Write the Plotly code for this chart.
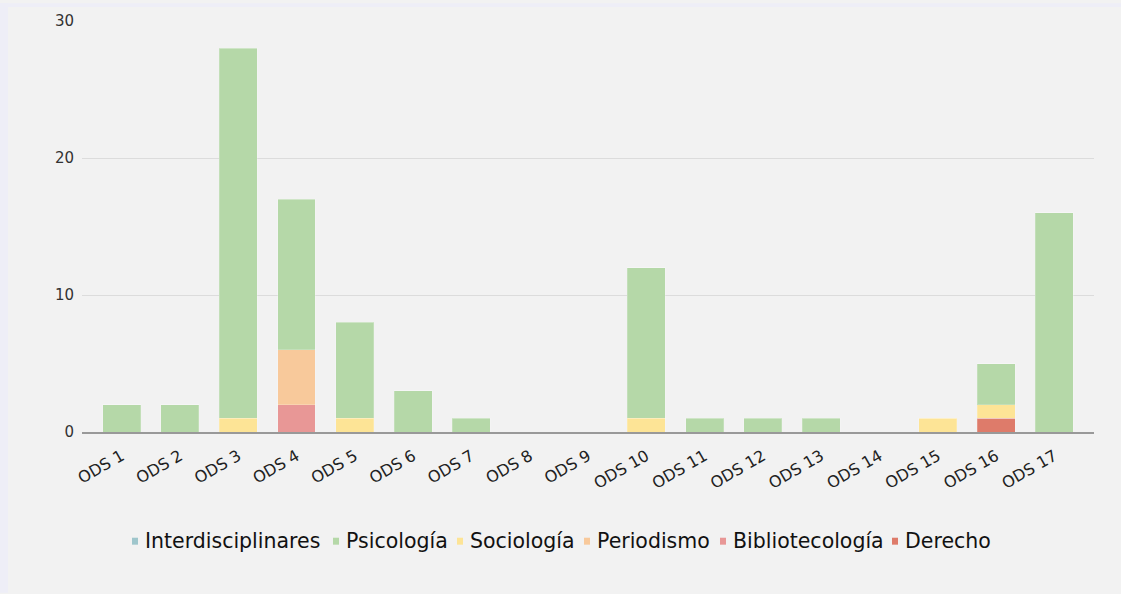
import plotly.graph_objects as go

categories = [f"ODS {i}" for i in range(1, 18)]

interdisciplinares = [0]*17
psicologia     = [2, 2, 27, 11, 7, 3, 1, 0, 0, 11, 1, 1, 1, 0, 0, 3, 16]
sociologia     = [0, 0, 1, 0, 1, 0, 0, 0, 0, 1, 0, 0, 0, 0, 1, 1, 0]
periodismo     = [0, 0, 0, 4, 0, 0, 0, 0, 0, 0, 0, 0, 0, 0, 0, 0, 0]
bibliotecologia= [0, 0, 0, 2, 0, 0, 0, 0, 0, 0, 0, 0, 0, 0, 0, 0, 0]
derecho        = [0, 0, 0, 0, 0, 0, 0, 0, 0, 0, 0, 0, 0, 0, 0, 1, 0]

series_names = ["Interdisciplinares", "Psicología", "Sociología", "Periodismo", "Bibliotecología", "Derecho"]
series_values = [interdisciplinares, psicologia, sociologia, periodismo, bibliotecologia, derecho]
colors = ["#9fc6cc", "#b5d8a8", "#fde496", "#f8c99b", "#e89796", "#de7b6a"]

y_ticks = [0, 10, 20, 30]

W, H = 1121, 594
ML, MR, MT, MB = 82, 27, 18, 162
PW, PH = W - ML - MR, H - MT - MB

fig = go.Figure()
# stack bottom-up: reverse of legend order
for name, vals, col in reversed(list(zip(series_names, series_values, colors))):
    fig.add_trace(go.Bar(
        x=categories, y=vals, name=name,
        marker=dict(color=col, line=dict(color="rgba(255,255,255,0.2)", width=1)),
        showlegend=False,
    ))

def px_to_paper_x(px):
    return (px - ML) / PW

def px_to_paper_y(py):
    return (H - MB - py) / PH

shapes = []
# outer lavender frame strips
shapes.append(dict(type="rect", xref="paper", yref="paper",
                   x0=px_to_paper_x(0), x1=px_to_paper_x(8), y0=px_to_paper_y(H), y1=px_to_paper_y(0),
                   fillcolor="#eeeef7", line=dict(width=0), layer="below"))
shapes.append(dict(type="rect", xref="paper", yref="paper",
                   x0=px_to_paper_x(0), x1=px_to_paper_x(W), y0=px_to_paper_y(4), y1=px_to_paper_y(0),
                   fillcolor="#eeeef7", line=dict(width=0), layer="below"))

# manual legend
legend_text_x = [145, 346, 470, 597, 733, 905]
legend_y = 542
annotations = []
for name, col, tx in zip(series_names, colors, legend_text_x):
    shapes.append(dict(type="rect", xref="paper", yref="paper",
                       x0=px_to_paper_x(tx - 13), x1=px_to_paper_x(tx - 7),
                       y0=px_to_paper_y(legend_y + 3.5), y1=px_to_paper_y(legend_y - 3.5),
                       fillcolor=col, line=dict(width=0)))
    annotations.append(dict(text=name, xref="paper", yref="paper",
                            x=px_to_paper_x(tx - 2), y=px_to_paper_y(legend_y),
                            xanchor="left", yanchor="middle", showarrow=False,
                            font=dict(family="DejaVu Sans", size=20.5, color="#111111")))

fig.update_layout(
    width=W, height=H,
    margin=dict(l=ML, r=MR, t=MT, b=MB),
    barmode="stack", bargap=0.35,
    paper_bgcolor="#f2f2f2", plot_bgcolor="#f2f2f2",
    font=dict(family="DejaVu Sans", color="#333333"),
    showlegend=False,
    shapes=shapes, annotations=annotations,
    xaxis=dict(range=[-0.68, 16.68], tickangle=-30, tickfont=dict(size=16, color="#222222"),
               showline=True, linecolor="#999999", linewidth=1.5, showgrid=False,
               ticks="", ticklabelstandoff=7, fixedrange=True),
    yaxis=dict(range=[0, 30], tickvals=y_ticks, tickfont=dict(size=15, color="#333333"),
               showgrid=True, gridcolor="#dcdcdc", gridwidth=1, zeroline=False,
               ticks="", ticklabelstandoff=7, fixedrange=True),
)

fig.write_html(
    "out.html",
    config={"displayModeBar": False},
    post_script="document.body.style.margin='0';document.body.style.overflow='hidden';document.body.style.background='#f2f2f2';",
)
